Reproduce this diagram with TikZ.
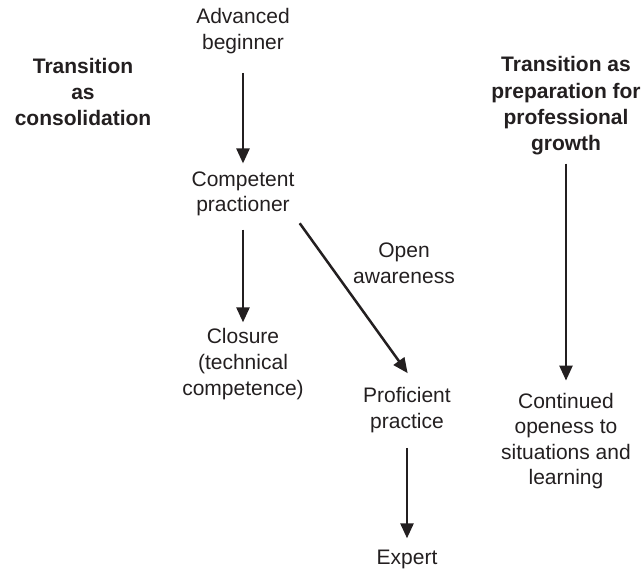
\documentclass[tikz,border=0pt]{standalone}
\usepackage{fontspec}
\setmainfont{Liberation Sans}
\usetikzlibrary{arrows.meta}
\definecolor{ink}{HTML}{231F20}
\begin{document}
\begin{tikzpicture}[x=0.5pt, y=-0.5pt, -{Triangle[length=7.5pt,width=6.5pt]}, line width=1.25pt, draw=ink,
  main node/.style={align=center, text=ink, inner sep=0pt, font=\fontsize{10.5}{12.8}\selectfont},
  head node/.style={main node, font=\fontsize{10.5}{13.2}\selectfont\bfseries}]
        \useasboundingbox (0,0) rectangle (643,574);

          \node[main node] (1) at (243,31) {Advanced\\beginner};
          \node[main node] (2) at (243,194) {Competent\\practioner};
          \node[main node] (3) at (243,364) {Closure\\(technical\\competence)};
          \node[main node] (4) at (407,410) {Proficient\\practice};
          \node[main node] (5) at (407,559) {Expert};
          \node[head node] (6) at (83,92) {Transition\\as\\consolidation};
          \node[head node] (7) at (566,106) {Transition as\\preparation for\\professional\\growth};
          \node[main node] (8) at (566,441) {Continued\\openess to\\situations and\\learning};
          \node[main node] (9) at (404,263) {Open\\awareness};

          \path
            (1) edge[shorten <=9pt, shorten >=3.5pt] (2)
            (2) edge[shorten <=6pt, shorten >=2.5pt] (3)
            (4) edge[shorten <=7pt, shorten >=5pt] (5)
            (7) edge[shorten <=3.5pt, shorten >=5.5pt] (8)
            (2.south east) edge[shorten <=3.5pt, shorten >=8pt] ([xshift=5pt]4.north);

        \end{tikzpicture}
\end{document}
